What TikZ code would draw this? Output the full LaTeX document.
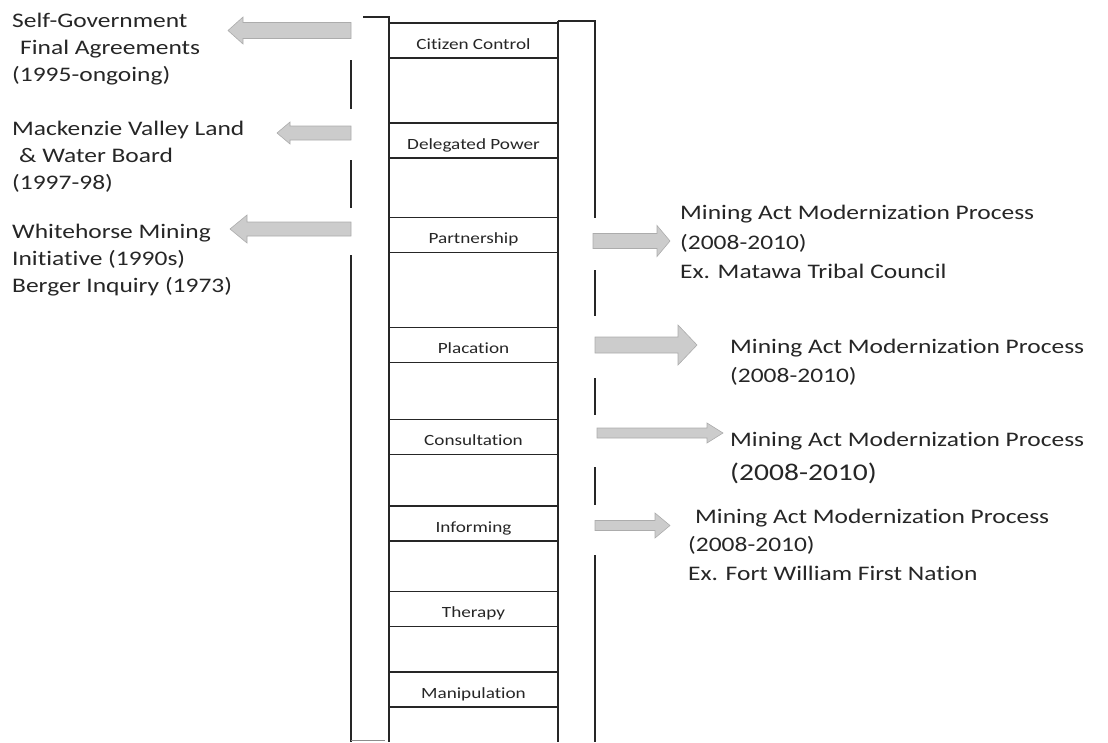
\documentclass[tikz,border=0pt]{standalone}
\usepackage{fontspec}
\setmainfont{Carlito}[FakeStretch=1.23, Ligatures={NoCommon,NoRare,NoContextual}]
\tikzset{
  rail/.style={line width=1.2pt, draw=black!85},
  railthin/.style={line width=0.8pt, draw=black!45},
  rung/.style={draw=black!85, line width=1.1pt, minimum width=169pt, minimum height=35pt,
    inner sep=0pt, text height=17pt, text depth=0pt, text=black!85,
    font=\fontsize{15.6}{18}\selectfont},
  big/.style={font=\fontsize{20.7}{27}\selectfont, align=left, anchor=base west,
    inner sep=0pt, text=black!85},
  bigr/.style={big, font=\fontsize{20.7}{29.5}\selectfont},
  blockarrow/.style={fill=gray!40, draw=gray!65, line width=0.6pt},
}
\begin{document}
\begin{tikzpicture}[x=1pt,y=-1pt]
\useasboundingbox (0,0) rectangle (1108,742);
% ladder rungs
\node[rung] (r1) at (473.5,40.5) {Citizen Control};
\node[rung] (r2) at (473.5,140.5) {Delegated Power};
\node[rung] (r3) at (473.5,235) {Partnership};
\node[rung] (r4) at (473.5,345) {Placation};
\node[rung] (r5) at (473.5,437) {Consultation};
\node[rung] (r6) at (473.5,523.5) {Informing};
\node[rung] (r7) at (473.5,609) {Therapy};
\node[rung] (r8) at (473.5,689.5) {Manipulation};
% rails
\draw[rail] (363,17) -- (389,17) -- (389,742);
\draw[rail] (558,21) -- (558,742);
\draw[rail] (558,21) -- (595,21) -- (595,218);
\draw[rail] (595,270) -- (595,316);
\draw[rail] (595,378) -- (595,415);
\draw[rail] (595,467) -- (595,505);
\draw[rail] (595,555) -- (595,742);
\draw[rail] (351,60) -- (351,109);
\draw[rail] (351,160) -- (351,208);
\draw[rail] (351,255) -- (351,742);
\draw[railthin] (351,740) -- (385,740);
% left arrows
\draw[blockarrow] (351,22.5) -- (243,22.5) -- (243,17) -- (228,30.5) -- (243,44) -- (243,38.5) -- (351,38.5) -- cycle;
\draw[blockarrow] (351,126) -- (290,126) -- (290,122) -- (277,133) -- (290,144) -- (290,140) -- (351,140) -- cycle;
\draw[blockarrow] (351,222) -- (247,222) -- (247,215) -- (230,229) -- (247,243) -- (247,236) -- (351,236) -- cycle;
% right arrows
\draw[blockarrow] (593,233.5) -- (657,233.5) -- (657,225.5) -- (670,241) -- (657,256.5) -- (657,248.5) -- (593,248.5) -- cycle;
\draw[blockarrow] (595,337) -- (678,337) -- (678,325) -- (697,345) -- (678,365) -- (678,353) -- (595,353) -- cycle;
\draw[blockarrow] (597,428) -- (707,428) -- (707,423) -- (723,433) -- (707,443) -- (707,438) -- (597,438) -- cycle;
\draw[blockarrow] (595,520.5) -- (655,520.5) -- (655,513) -- (670,525.5) -- (655,538) -- (655,530.5) -- (595,530.5) -- cycle;
% left texts (anchored at the baseline of their last line)
\node[big] (t1) at (12,81) {Self-Government\\\hspace*{8pt}Final Agreements\\(1995-ongoing)};
\node[big] (t2) at (12,189) {Mackenzie Valley Land\\\hspace*{7pt}\& Water Board\\(1997-98)};
\node[big] (t3) at (12,292) {Whitehorse Mining\\Initiative (1990s)\\Berger Inquiry (1973)};
% right texts
\node[bigr] (m1) at (680,278.5) {Mining Act Modernization Process\\(2008-2010)\\Ex. Matawa Tribal Council};
\node[bigr] (m2) at (730,382.5) {Mining Act Modernization Process\\(2008-2010)};
\node[big] (m3) at (730,446.7) {Mining Act Modernization Process};
\node[big, font=\fontsize{24}{28}\selectfont] (m3b) at (730,480) {(2008-2010)};
\node[big, font=\fontsize{20.7}{28.5}\selectfont] (m4) at (688,580) {\hspace*{7pt}Mining Act Modernization Process\\(2008-2010)\\Ex. Fort William First Nation};
\end{tikzpicture}
\end{document}
